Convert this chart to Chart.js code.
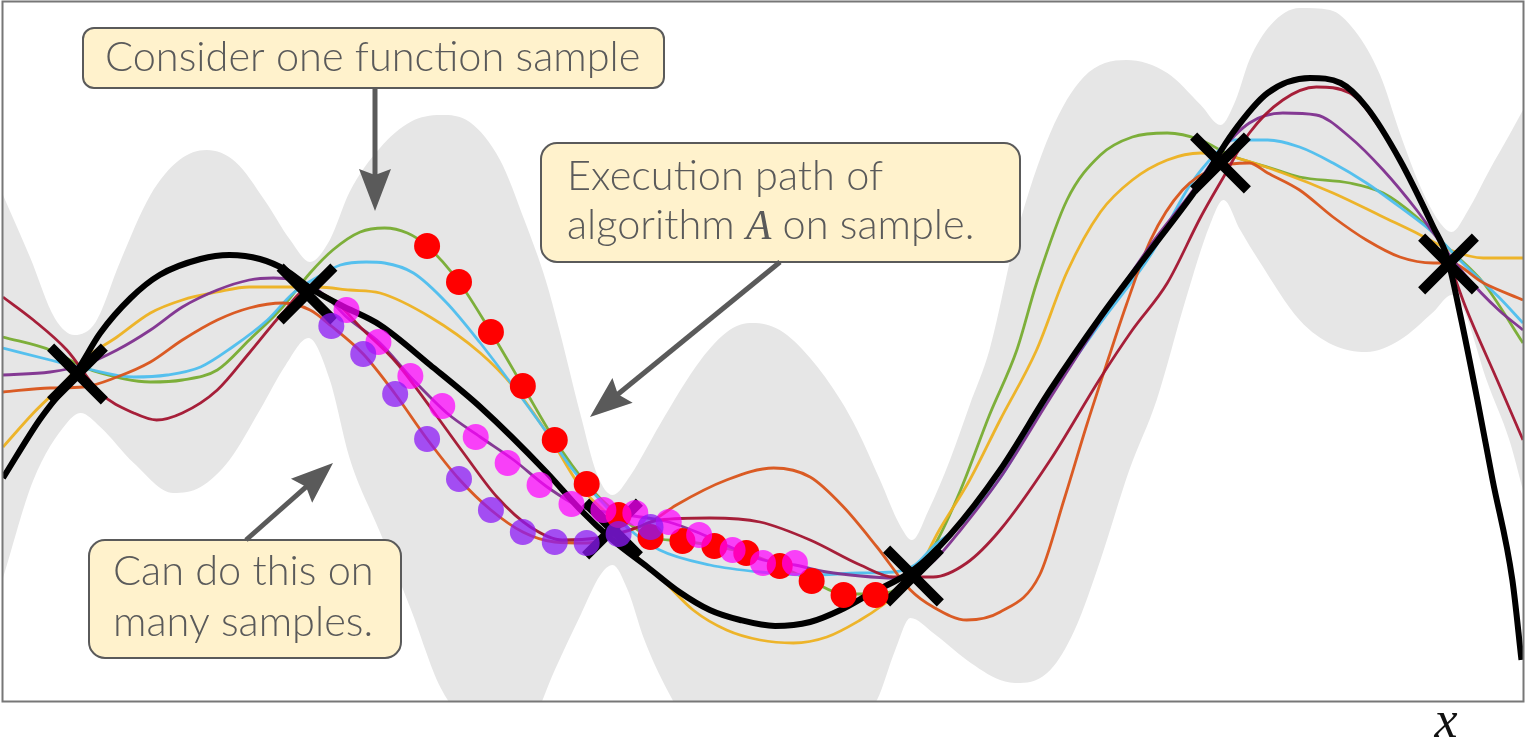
<!DOCTYPE html>
<html>
<head>
<meta charset="utf-8">
<script src="https://cdn.jsdelivr.net/npm/chart.js@4.4.1/dist/chart.umd.min.js"></script>
<style>
  html, body { margin: 0; padding: 0; background: #fff; }
  canvas { display: block; }
</style>
</head>
<body>
<canvas id="c" width="1525" height="746"></canvas>
<script>
// Posterior band (upper / lower edge), as [x, y]
const bandUpper = [[0,1.57],[0.18,0.94],[0.34,0.34],[0.47,0.17],[0.61,0.30],[0.77,0.90],[0.97,1.57],[1.16,1.92],[1.34,2.02],[1.53,1.90],[1.72,1.52],[1.89,1.12],[2.02,0.90],[2.15,1.12],[2.28,1.60],[2.48,2.04],[2.68,2.30],[2.88,2.37],[3.07,2.30],[3.27,1.92],[3.43,1.32],[3.57,0.72],[3.66,0.22],[3.80,-0.63],[3.91,-1.23],[4.01,-1.43],[4.13,-1.23],[4.22,-1.00],[4.32,-0.73],[4.59,-0.08],[4.78,0.22],[4.93,0.29],[5.11,0.22],[5.31,-0.06],[5.51,-0.48],[5.62,-0.78],[5.77,-1.28],[5.90,-1.73],[5.98,-1.88],[6.09,-1.58],[6.23,-1.08],[6.36,-0.53],[6.49,0.02],[6.67,1.19],[6.89,2.19],[7.11,2.75],[7.39,2.92],[7.66,2.79],[7.88,2.47],[8.01,2.27],[8.11,2.52],[8.20,2.92],[8.34,3.27],[8.53,3.44],[8.73,3.42],[8.89,3.22],[9.06,2.77],[9.19,2.19],[9.32,1.67],[9.45,1.30],[9.53,1.20],[9.64,1.42],[9.78,1.82],[9.91,2.17],[10,2.42]];
const bandLower = [[0,-2.26],[0.20,-1.28],[0.42,-0.71],[0.51,-0.61],[0.64,-0.75],[0.86,-1.11],[1.12,-1.41],[1.30,-1.35],[1.49,-1.08],[1.69,-0.58],[1.86,-0.13],[2.01,0.14],[2.15,-0.28],[2.28,-1.06],[2.48,-1.80],[2.68,-2.56],[2.88,-3.36],[3.07,-3.73],[3.27,-3.88],[3.47,-3.73],[3.63,-3.18],[3.80,-2.63],[3.93,-2.23],[4.01,-2.13],[4.11,-2.38],[4.22,-2.88],[4.37,-3.38],[4.59,-3.93],[4.93,-4.48],[5.31,-4.08],[5.64,-3.68],[5.75,-3.48],[5.87,-2.98],[5.97,-2.66],[6.12,-2.81],[6.34,-3.08],[6.56,-3.28],[6.69,-3.31],[6.89,-3.18],[7.05,-2.78],[7.22,-2.08],[7.41,-1.18],[7.59,-0.48],[7.78,0.52],[7.94,1.27],[8.03,1.52],[8.14,1.22],[8.26,0.92],[8.53,0.32],[8.75,0.07],[8.97,0.00],[9.19,0.12],[9.41,0.40],[9.53,0.57],[9.61,0.42],[9.76,-0.28],[9.91,-0.88],[10,-1.38]];

// True function
const trueFn = [[0,-1.26],[0.24,-0.68],[0.49,-0.18],[0.64,0.19],[0.84,0.54],[1.03,0.77],[1.30,0.93],[1.49,0.97],[1.69,0.93],[1.86,0.82],[2.02,0.64],[2.22,0.47],[2.48,0.27],[2.81,-0.13],[3.14,-0.55],[3.58,-1.21],[3.80,-1.58],[4.01,-1.88],[4.24,-2.15],[4.45,-2.40],[4.65,-2.58],[4.85,-2.68],[5.08,-2.74],[5.31,-2.70],[5.51,-2.58],[5.70,-2.42],[5.99,-2.18],[6.23,-1.83],[6.56,-1.18],[6.89,-0.38],[7.22,0.35],[7.55,1.02],[7.88,1.69],[8.09,2.19],[8.32,2.59],[8.60,2.74],[8.80,2.69],[8.97,2.45],[9.19,1.92],[9.41,1.25],[9.50,0.95],[9.59,0.35],[9.70,-0.48],[9.80,-1.28],[9.93,-2.28],[9.99,-3.08]];

// Posterior function samples
const sampleGreen = [[0,0.15],[0.31,0.02],[0.53,-0.15],[0.64,-0.21],[0.97,-0.30],[1.18,-0.28],[1.41,-0.18],[1.62,0.12],[1.84,0.45],[2.02,0.79],[2.17,1.02],[2.35,1.20],[2.51,1.24],[2.66,1.19],[2.79,1.06],[3.00,0.70],[3.21,0.20],[3.42,-0.34],[3.63,-0.88],[3.84,-1.32],[4.05,-1.63],[4.26,-1.85],[4.47,-1.89],[4.68,-1.94],[4.89,-2.01],[5.11,-2.14],[5.32,-2.29],[5.53,-2.42],[5.74,-2.42],[5.87,-2.38],[6.00,-2.20],[6.13,-1.93],[6.30,-1.38],[6.49,-0.63],[6.67,0.02],[6.80,0.69],[7.00,1.52],[7.22,1.97],[7.43,2.15],[7.66,2.19],[7.88,2.12],[8.07,1.97],[8.34,1.84],[8.53,1.75],[8.86,1.69],[9.08,1.59],[9.30,1.35],[9.52,1.02],[9.74,0.69],[10,0.09]];
const sampleBlue = [[0,0.04],[0.31,-0.08],[0.53,-0.16],[0.86,-0.25],[1.08,-0.23],[1.30,-0.15],[1.51,0.05],[1.74,0.32],[1.91,0.59],[2.07,0.75],[2.22,0.87],[2.39,0.90],[2.51,0.89],[2.70,0.79],[2.92,0.49],[3.14,0.09],[3.36,-0.35],[3.58,-0.81],[3.75,-1.18],[3.91,-1.45],[4.11,-1.76],[4.32,-1.98],[4.65,-2.13],[4.98,-2.20],[5.31,-2.23],[5.64,-2.21],[5.86,-2.20],[6.00,-2.13],[6.13,-1.93],[6.30,-1.73],[6.56,-1.26],[6.89,-0.43],[7.22,0.29],[7.55,0.97],[7.81,1.67],[7.97,1.97],[8.09,2.12],[8.32,2.12],[8.53,2.05],[8.75,1.89],[8.97,1.69],[9.19,1.45],[9.41,1.19],[9.63,0.85],[9.84,0.55],[10,0.29]];
const sampleYellow = [[0,-0.95],[0.20,-0.61],[0.42,-0.28],[0.53,-0.08],[0.75,0.15],[0.97,0.39],[1.18,0.52],[1.41,0.60],[1.62,0.65],[1.84,0.65],[2.07,0.65],[2.28,0.62],[2.48,0.59],[2.81,0.35],[3.14,-0.01],[3.36,-0.35],[3.58,-0.81],[3.80,-1.35],[4.01,-1.68],[4.19,-2.08],[4.32,-2.25],[4.54,-2.58],[4.76,-2.78],[4.98,-2.88],[5.20,-2.91],[5.42,-2.85],[5.64,-2.68],[5.77,-2.55],[5.99,-2.26],[6.16,-1.78],[6.36,-1.28],[6.56,-0.68],[6.80,0.02],[7.00,0.80],[7.22,1.40],[7.43,1.72],[7.66,1.92],[7.88,1.99],[8.09,1.95],[8.42,1.79],[8.75,1.59],[9.08,1.35],[9.30,1.19],[9.52,1.02],[9.74,0.94],[10,0.94]];
const samplePurple = [[0,-0.23],[0.31,-0.20],[0.53,-0.13],[0.75,0.02],[0.97,0.22],[1.18,0.45],[1.41,0.62],[1.62,0.72],[1.78,0.74],[1.91,0.72],[2.07,0.62],[2.17,0.49],[2.26,0.35],[2.48,0.09],[2.70,-0.28],[2.92,-0.61],[3.14,-0.85],[3.36,-1.08],[3.58,-1.35],[3.80,-1.55],[4.01,-1.61],[4.24,-1.66],[4.38,-1.70],[4.58,-1.81],[4.80,-1.96],[5.00,-2.08],[5.21,-2.13],[5.42,-2.20],[5.64,-2.24],[5.86,-2.26],[5.99,-2.24],[6.13,-2.08],[6.30,-1.78],[6.56,-1.26],[6.89,-0.46],[7.22,0.32],[7.55,1.07],[7.83,1.62],[7.99,1.97],[8.20,2.29],[8.42,2.39],[8.64,2.37],[8.86,2.15],[9.08,1.82],[9.30,1.42],[9.41,1.19],[9.63,0.75],[9.84,0.42],[10,0.22]];
const sampleMaroon = [[0,0.55],[0.20,0.32],[0.42,0.02],[0.64,-0.41],[0.86,-0.61],[1.01,-0.68],[1.18,-0.61],[1.41,-0.38],[1.62,-0.01],[1.84,0.39],[2.00,0.62],[2.17,0.52],[2.37,0.22],[2.59,-0.11],[2.81,-0.55],[3.03,-1.01],[3.25,-1.45],[3.47,-1.75],[3.68,-1.88],[3.91,-1.86],[4.12,-1.78],[4.32,-1.68],[4.65,-1.66],[4.98,-1.70],[5.31,-1.88],[5.64,-2.13],[5.86,-2.25],[6.12,-2.25],[6.34,-2.11],[6.56,-1.78],[6.89,-1.08],[7.22,-0.26],[7.43,0.22],[7.66,0.69],[7.88,1.35],[8.03,1.75],[8.20,2.19],[8.42,2.52],[8.64,2.65],[8.86,2.59],[9.08,2.19],[9.30,1.62],[9.50,0.95],[9.63,0.42],[9.83,-0.28],[10,-0.88]];
const sampleOrange = [[0,-0.40],[0.31,-0.36],[0.53,-0.35],[0.75,-0.25],[0.97,-0.10],[1.18,0.12],[1.41,0.32],[1.62,0.44],[1.84,0.49],[2.02,0.42],[2.16,0.26],[2.37,-0.02],[2.58,-0.42],[2.79,-0.87],[3.00,-1.27],[3.21,-1.58],[3.42,-1.80],[3.63,-1.90],[3.84,-1.91],[4.05,-1.82],[4.26,-1.70],[4.43,-1.53],[4.76,-1.28],[5.07,-1.16],[5.31,-1.25],[5.53,-1.55],[5.75,-1.95],[5.97,-2.38],[6.12,-2.55],[6.34,-2.68],[6.56,-2.60],[6.82,-2.23],[6.98,-1.48],[7.13,-0.73],[7.28,-0.03],[7.39,0.47],[7.55,1.12],[7.76,1.62],[7.99,1.85],[8.20,1.89],[8.32,1.79],[8.53,1.62],[8.75,1.35],[8.97,1.12],[9.19,0.95],[9.41,0.89],[9.52,0.89],[9.74,0.69],[10,0.52]];

// Observed data
const observations = [[0.49,-0.22],[2.00,0.58],[4.01,-1.77],[5.99,-2.24],[8.01,1.89],[9.51,0.88]];

// Execution paths of algorithm A on three samples
const pathRed = [[2.79,1.06],[3.00,0.70],[3.21,0.20],[3.42,-0.34],[3.63,-0.88],[3.84,-1.32],[4.05,-1.63],[4.26,-1.85],[4.47,-1.89],[4.68,-1.94],[4.89,-2.01],[5.11,-2.14],[5.32,-2.29],[5.53,-2.43],[5.74,-2.43]];
const pathMagenta = [[2.26,0.42],[2.47,0.10],[2.68,-0.24],[2.89,-0.54],[3.11,-0.85],[3.32,-1.11],[3.53,-1.33],[3.74,-1.52],[3.95,-1.58],[4.16,-1.61],[4.38,-1.70],[4.58,-1.83],[4.80,-1.98],[5.00,-2.11],[5.21,-2.11]];
const pathViolet = [[2.16,0.26],[2.37,-0.02],[2.58,-0.42],[2.79,-0.87],[3.00,-1.27],[3.21,-1.58],[3.42,-1.80],[3.63,-1.90],[3.84,-1.91],[4.05,-1.82],[4.26,-1.75]];

const toPts = arr => arr.map(([x, y]) => ({ x, y }));

const curve = (label, arr, color, width, order) => ({
  label, data: toPts(arr), borderColor: color, borderWidth: width,
  pointRadius: 0, fill: false, cubicInterpolationMode: 'monotone', order
});
const dots = (label, arr, color, radius, order) => ({
  label, data: toPts(arr), showLine: false, pointRadius: radius,
  pointBackgroundColor: color, pointBorderWidth: 0, order
});

// Frame, callouts and axis label
function calloutBox(ctx, x, y, w, h, r) {
  ctx.beginPath();
  ctx.moveTo(x + r, y);
  ctx.arcTo(x + w, y, x + w, y + h, r);
  ctx.arcTo(x + w, y + h, x, y + h, r);
  ctx.arcTo(x, y + h, x, y, r);
  ctx.arcTo(x, y, x + w, y, r);
  ctx.closePath();
  ctx.fillStyle = '#fff2cc';
  ctx.fill();
  ctx.lineWidth = 2;
  ctx.strokeStyle = '#5a5a5a';
  ctx.stroke();
}
function calloutArrow(ctx, x0, y0, x1, y1) {
  const a = Math.atan2(y1 - y0, x1 - x0);
  const c = Math.cos(a), s = Math.sin(a);
  const hl = 42, hw = 16, notch = 6;
  const bx = x1 - hl * c, by = y1 - hl * s;
  ctx.strokeStyle = '#5a5a5a';
  ctx.fillStyle = '#5a5a5a';
  ctx.lineWidth = 5;
  ctx.lineCap = 'butt';
  ctx.beginPath();
  ctx.moveTo(x0, y0);
  ctx.lineTo(bx + (notch + 2) * c, by + (notch + 2) * s);
  ctx.stroke();
  ctx.beginPath();
  ctx.moveTo(x1, y1);
  ctx.lineTo(bx + hw * s, by - hw * c);
  ctx.lineTo(bx + notch * c, by + notch * s);
  ctx.lineTo(bx - hw * s, by + hw * c);
  ctx.closePath();
  ctx.fill();
}

const decorations = {
  id: 'decorations',
  afterDraw(chart) {
    const ctx = chart.ctx;
    const { left, right, top, bottom } = chart.chartArea;
    ctx.save();
    ctx.strokeStyle = '#777';
    ctx.lineWidth = 2;
    ctx.strokeRect(left - 0.5, top - 0.5, right - left + 1, bottom - top);

    const sans = '300 41.5px Lato';
    ctx.textBaseline = 'alphabetic';
    ctx.textAlign = 'left';

    calloutBox(ctx, 83, 28, 581, 60, 11);
    calloutArrow(ctx, 375, 88, 375, 211);
    ctx.font = sans; ctx.fillStyle = '#5a5a5a';
    ctx.fillText('Consider one function sample', 105, 71);

    calloutBox(ctx, 541, 143, 479, 119, 16);
    calloutArrow(ctx, 780, 262, 590, 417);
    ctx.font = sans; ctx.fillStyle = '#5a5a5a';
    ctx.fillText('Execution path of', 567, 190);
    let tx = 567;
    const part1 = 'algorithm ';
    ctx.fillText(part1, tx, 239);
    tx += ctx.measureText(part1).width;
    ctx.font = 'italic 41.5px "Liberation Serif"';
    ctx.fillText('A', tx, 239);
    tx += ctx.measureText('A').width;
    ctx.font = sans;
    ctx.fillText(' on sample.', tx, 239);

    calloutBox(ctx, 89, 540, 312, 118, 16);
    calloutArrow(ctx, 246, 540, 333, 463);
    ctx.font = sans; ctx.fillStyle = '#5a5a5a';
    ctx.fillText('Can do this on', 113, 585);
    ctx.fillText('many samples.', 113, 636);

    ctx.font = 'italic 52px "Liberation Serif"';
    ctx.fillStyle = '#111';
    ctx.textAlign = 'center';
    ctx.fillText('x', 1446, 737);
    ctx.restore();
  }
};

function build() {
  new Chart(document.getElementById('c'), {
    type: 'line',
    data: {
      datasets: [
        { label: 'band upper', data: toPts(bandUpper), borderColor: 'rgba(0,0,0,0)', borderWidth: 0,
          pointRadius: 0, backgroundColor: 'rgb(230,230,230)', fill: '+1', cubicInterpolationMode: 'monotone', order: 100 },
        { label: 'band lower', data: toPts(bandLower), borderColor: 'rgba(0,0,0,0)', borderWidth: 0,
          pointRadius: 0, fill: false, cubicInterpolationMode: 'monotone', order: 99 },
        curve('sample 1', sampleGreen, 'rgba(119,172,48,0.95)', 2.8, 60),
        curve('sample 2', sampleYellow, 'rgba(237,177,32,0.95)', 2.8, 59),
        curve('sample 3', sampleBlue, 'rgba(77,190,238,0.95)', 2.8, 58),
        curve('sample 4', sampleOrange, 'rgba(217,83,25,0.95)', 2.8, 57),
        curve('sample 5', samplePurple, 'rgba(126,47,142,0.95)', 2.8, 56),
        curve('sample 6', sampleMaroon, 'rgba(162,20,47,0.95)', 2.8, 55),
        curve('f', trueFn, '#000', 6, 40),
        { label: 'observations', data: toPts(observations), showLine: false, pointStyle: 'crossRot',
          pointRadius: 38, pointBorderWidth: 10, pointBorderColor: '#000', pointBackgroundColor: '#000', order: 30 },
        dots('path 1', pathRed, '#ff0000', 13, 20),
        dots('path 2', pathMagenta, 'rgba(255,0,255,0.72)', 13, 10),
        dots('path 3', pathViolet, 'rgba(140,25,245,0.75)', 13, 0)
      ]
    },
    options: {
      responsive: false,
      animation: false,
      devicePixelRatio: 1,
      events: [],
      layout: { autoPadding: false, padding: { left: 3, right: 2, top: 2, bottom: 44 } },
      scales: {
        x: { type: 'linear', min: 0, max: 10, display: false },
        y: { type: 'linear', min: -3.5, max: 3.5, display: false }
      },
      plugins: { legend: { display: false }, tooltip: { enabled: false } }
    },
    plugins: [decorations]
  });
}

if (document.fonts && document.fonts.load) {
  Promise.all([
    document.fonts.load('300 41.5px Lato'),
    document.fonts.load('italic 52px "Liberation Serif"')
  ]).then(build, build);
} else {
  build();
}
</script>
</body>
</html>
